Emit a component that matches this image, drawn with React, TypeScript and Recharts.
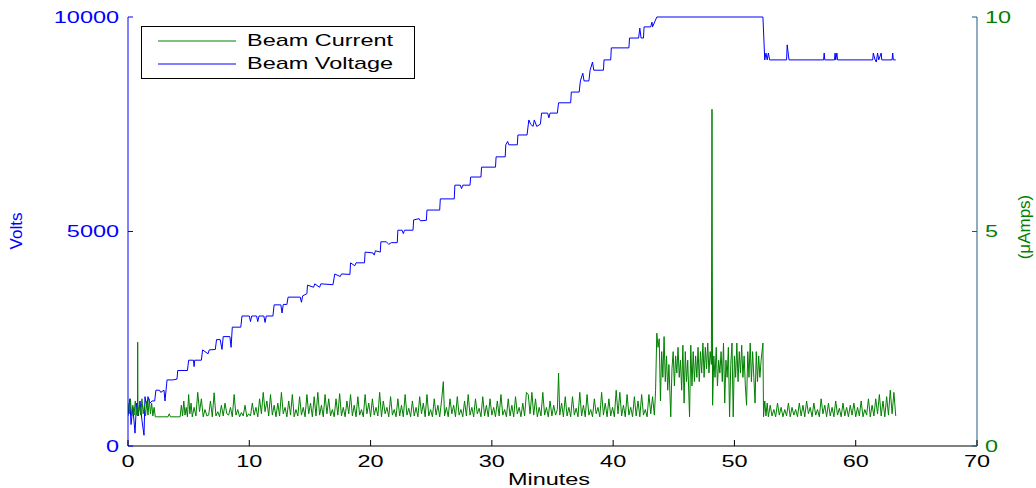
import { LineChart, Line, XAxis, YAxis, Legend } from 'recharts';

// minutes, volts
const voltagePoints: [number, number][] = [
  [0, 700], [0.15, 1100], [0.25, 500], [0.4, 900], [0.58, 300], [0.7, 1000], [0.85, 700],
  [0.99, 1050], [1.15, 600], [1.32, 250], [1.4, 1150], [1.55, 900], [1.65, 1150], [1.8, 1000],
  [1.98, 1050], [2.2, 1050], [2.3, 1300], [2.6, 1300], [2.7, 1250], [2.97, 1300], [3.05, 1050],
  [3.22, 1540], [3.7, 1540], [4.04, 1560], [4.1, 1760], [4.9, 1760], [5.0, 2000], [5.4, 2000],
  [5.45, 1850], [5.5, 2000], [6.05, 2000], [6.15, 2240], [6.6, 2150], [6.7, 2240], [7.2, 2250],
  [7.3, 2480], [7.6, 2480], [7.75, 2250], [7.85, 2550], [8.4, 2550], [8.5, 2300], [8.6, 2770],
  [9.3, 2770], [9.4, 3030], [10.0, 3030], [10.1, 2900], [10.2, 3030], [10.6, 3030], [10.7, 2900],
  [10.8, 3030], [11.2, 3030], [11.3, 2880], [11.4, 3030], [11.95, 3030], [12.05, 3290], [12.6, 3290],
  [12.7, 3100], [12.8, 3300], [13.1, 3300], [13.2, 3470], [14.2, 3470], [14.3, 3350], [14.4, 3500],
  [14.75, 3550], [14.8, 3750], [15.3, 3700], [15.4, 3780], [15.8, 3700], [15.9, 3780], [16.9, 3760],
  [17.05, 4010], [17.5, 3950], [17.6, 4010], [18.3, 4000], [18.35, 4270], [18.7, 4200], [18.8, 4270],
  [19.5, 4270], [19.55, 4520], [20.2, 4500], [20.3, 4450], [20.4, 4550], [20.8, 4520], [20.85, 4760],
  [21.3, 4760], [21.5, 4700], [21.7, 4740], [22.2, 4740], [22.25, 5030], [22.6, 5030], [22.7, 4950],
  [22.8, 5030], [23.5, 5030], [23.55, 5270], [24.0, 5300], [24.1, 5250], [24.6, 5260], [24.65, 5500],
  [25.7, 5500], [25.75, 5760], [26.9, 5760], [26.95, 6080], [27.4, 6080], [27.5, 6000], [27.6, 6080],
  [28.2, 6080], [28.25, 6270], [29.1, 6270], [29.15, 6500], [30.3, 6500], [30.35, 6740], [31.1, 6740],
  [31.15, 7020], [31.3, 7100], [31.4, 7020], [32.1, 7020], [32.15, 7250], [32.9, 7250], [33.05, 7600],
  [33.2, 7500], [33.4, 7450], [33.5, 7600], [33.7, 7450], [34.0, 7500], [34.1, 7760], [34.6, 7760],
  [34.7, 7650], [34.8, 7760], [35.4, 7760], [35.5, 8000], [36.5, 8000], [36.55, 8250], [37.2, 8250],
  [37.3, 8510], [37.5, 8690], [37.6, 8510], [38.0, 8510], [38.1, 8760], [38.3, 8950], [38.4, 8760],
  [39.2, 8760], [39.25, 9000], [39.8, 9000], [39.85, 9280], [41.3, 9280], [41.35, 9510], [42.1, 9510],
  [42.2, 9740], [42.3, 9510], [42.5, 9510], [42.55, 9770], [43.1, 9770], [43.2, 9880], [43.25, 9770],
  [43.6, 10000], [52.35, 10000], [52.5, 9000], [52.6, 9160], [52.7, 9000], [52.8, 9160], [52.9, 9000],
  [54.3, 9000], [54.35, 9350], [54.5, 9000], [57.35, 9000], [57.4, 9160], [57.45, 9000], [58.25, 9000],
  [58.3, 9160], [58.35, 9000], [58.45, 9160], [58.5, 9000], [61.4, 9000], [61.45, 9160], [61.6, 9000],
  [61.7, 8950], [61.8, 9160], [61.9, 9000], [62.1, 9160], [62.15, 9000], [63.0, 9000], [63.05, 9160],
  [63.1, 9000], [63.3, 9000],
];

// minutes, microamps
const currentPoints: [number, number][] = [
  [0, 1.0], [0.1, 0.75], [0.2, 1.1], [0.3, 0.7], [0.4, 0.95], [0.5, 0.72], [0.6, 1.05], [0.7, 0.75],
  [0.78, 0.7], [0.8, 2.42], [0.82, 0.7], [0.95, 1.0], [1.05, 0.72], [1.15, 1.1], [1.25, 0.75],
  [1.35, 0.95], [1.45, 0.7], [1.55, 1.05], [1.65, 0.72], [1.75, 1.1], [1.85, 0.75], [1.95, 1.0],
  [2.05, 0.7], [2.15, 0.9], [2.25, 0.68], [2.4, 0.68], [3.3, 0.68], [3.4, 0.75], [3.5, 0.68], [4.2, 0.68],
  [4.3, 0.68], [4.4, 0.95], [4.5, 0.7], [4.6, 1.05], [4.7, 0.72], [4.8, 0.9], [4.9, 0.68], [5.0, 1.2],
  [5.1, 0.75], [5.2, 1.0], [5.3, 0.68], [5.45, 0.9], [5.6, 0.7], [5.75, 1.25], [5.9, 0.8], [6.05, 1.1],
  [6.2, 0.68], [6.35, 0.85], [6.5, 0.7], [6.65, 0.72], [6.8, 1.05], [6.95, 0.68], [7.1, 1.24], [7.25, 0.7],
  [7.4, 0.8], [7.55, 0.68], [7.7, 0.95], [7.85, 0.7], [8.0, 1.0], [8.15, 0.75], [8.3, 0.72], [8.45, 0.9],
  [8.6, 0.68], [8.75, 1.2], [8.9, 0.72], [9.05, 0.85], [9.2, 0.68], [9.35, 0.78], [9.5, 0.7], [9.65, 0.95],
  [9.8, 0.68], [9.95, 0.75], [10.1, 0.7], [10.25, 1.0], [10.4, 0.72], [10.55, 0.9], [10.7, 0.68],
  [10.85, 1.1], [11.0, 0.75], [11.15, 1.25], [11.3, 0.8], [11.45, 1.05], [11.6, 0.7], [11.75, 1.2],
  [11.9, 0.72], [12.05, 0.95], [12.2, 0.68], [12.35, 1.0], [12.5, 0.7], [12.65, 1.25], [12.8, 0.75],
  [12.95, 0.9], [13.1, 0.68], [13.25, 1.05], [13.4, 0.72], [13.55, 1.2], [13.7, 0.68], [13.85, 0.85],
  [14.0, 0.7], [14.15, 1.15], [14.3, 0.72], [14.45, 0.9], [14.6, 0.68], [14.75, 1.2], [14.9, 0.75],
  [15.05, 1.0], [15.2, 0.68], [15.35, 1.15], [15.5, 0.7], [15.65, 1.25], [15.8, 0.72], [15.95, 0.95],
  [16.1, 0.68], [16.25, 1.2], [16.4, 0.75], [16.55, 1.1], [16.7, 0.7], [16.85, 0.85], [17.0, 0.68],
  [17.15, 1.1], [17.3, 0.72], [17.45, 1.22], [17.6, 0.7], [17.75, 0.9], [17.9, 0.68], [18.05, 1.05],
  [18.2, 0.75], [18.35, 1.2], [18.5, 0.7], [18.65, 0.95], [18.8, 0.68], [18.95, 1.15], [19.1, 0.72],
  [19.25, 0.85], [19.4, 0.68], [19.55, 1.2], [19.7, 0.75], [19.85, 1.0], [20.0, 0.68], [20.15, 1.1],
  [20.3, 0.72], [20.45, 0.9], [20.6, 0.7], [20.75, 1.25], [20.9, 0.68], [21.05, 1.05], [21.2, 0.75],
  [21.35, 0.9], [21.5, 0.68], [21.65, 1.15], [21.8, 0.72], [21.95, 0.85], [22.1, 0.68], [22.25, 1.1],
  [22.4, 0.7], [22.55, 0.95], [22.7, 0.68], [22.85, 1.2], [23.0, 0.72], [23.15, 0.88], [23.3, 0.68],
  [23.45, 1.05], [23.6, 0.7], [23.75, 0.9], [23.9, 0.68], [24.05, 1.15], [24.2, 0.75], [24.35, 1.0],
  [24.5, 0.68], [24.65, 1.2], [24.8, 0.7], [24.95, 0.85], [25.1, 0.68], [25.25, 1.1], [25.4, 0.72],
  [25.55, 0.95], [25.7, 0.68], [25.85, 1.05], [26.0, 1.5], [26.1, 0.7], [26.25, 0.9], [26.4, 0.68],
  [26.55, 1.1], [26.7, 0.75], [26.85, 0.95], [27.0, 0.68], [27.15, 1.15], [27.3, 0.72], [27.45, 0.85],
  [27.6, 0.68], [27.75, 1.05], [27.9, 0.7], [28.05, 1.2], [28.2, 0.72], [28.35, 0.9], [28.5, 0.68],
  [28.65, 1.1], [28.8, 0.75], [28.95, 0.88], [29.1, 0.68], [29.25, 1.15], [29.4, 0.7], [29.55, 0.95],
  [29.7, 0.68], [29.85, 1.1], [30.0, 0.72], [30.15, 0.9], [30.3, 0.68], [30.45, 1.05], [30.6, 0.7],
  [30.75, 1.2], [30.9, 0.72], [31.05, 0.85], [31.2, 0.68], [31.35, 1.1], [31.5, 0.7], [31.65, 0.95],
  [31.8, 0.68], [31.95, 1.15], [32.1, 0.75], [32.25, 0.9], [32.4, 0.68], [32.55, 1.0], [32.7, 0.7],
  [32.85, 1.25], [33.0, 1.2], [33.15, 0.75], [33.3, 1.25], [33.45, 0.72], [33.6, 1.1], [33.75, 0.68],
  [33.9, 0.9], [34.05, 0.7], [34.2, 1.25], [34.35, 0.72], [34.5, 0.9], [34.65, 0.68], [34.8, 1.05],
  [34.95, 0.7], [35.1, 0.95], [35.25, 0.72], [35.4, 0.85], [35.5, 1.7], [35.6, 0.72], [35.75, 1.0],
  [35.9, 0.68], [36.05, 1.15], [36.2, 0.7], [36.35, 0.9], [36.5, 0.68], [36.65, 1.15], [36.8, 0.72],
  [36.95, 0.88], [37.1, 0.68], [37.25, 1.25], [37.4, 0.7], [37.55, 0.95], [37.7, 0.68], [37.85, 1.2],
  [38.0, 0.72], [38.15, 0.85], [38.3, 0.68], [38.45, 1.1], [38.6, 0.75], [38.75, 0.9], [38.9, 0.68],
  [39.05, 1.25], [39.2, 0.72], [39.35, 1.0], [39.5, 0.68], [39.65, 1.1], [39.8, 0.7], [39.95, 0.9],
  [40.1, 0.68], [40.25, 1.3], [40.4, 0.75], [40.55, 1.25], [40.7, 0.7], [40.85, 0.95], [41.0, 0.68],
  [41.15, 1.2], [41.3, 0.72], [41.45, 0.9], [41.6, 0.68], [41.75, 1.15], [41.9, 0.7], [42.05, 1.05],
  [42.2, 0.68], [42.35, 1.2], [42.5, 0.72], [42.65, 0.85], [42.8, 0.68], [42.95, 1.2], [43.1, 0.75],
  [43.25, 1.15], [43.4, 0.72], [43.5, 1.3],
  [43.6, 2.63], [43.7, 2.3], [43.8, 2.5], [43.9, 1.05], [44.0, 2.2], [44.1, 1.6], [44.2, 2.55], [44.3, 1.5],
  [44.4, 2.1], [44.5, 1.3], [44.6, 1.9], [44.75, 0.68], [44.85, 1.8], [44.95, 2.2], [45.05, 1.4],
  [45.15, 2.1], [45.25, 1.7], [45.35, 2.3], [45.45, 1.6], [45.55, 2.0], [45.65, 1.3], [45.75, 2.35],
  [45.85, 1.0], [45.95, 2.2], [46.05, 1.5], [46.15, 2.0], [46.3, 0.68], [46.4, 2.35], [46.5, 1.4],
  [46.6, 2.2], [46.7, 1.5], [46.8, 2.1], [46.9, 1.6], [47.0, 2.3], [47.1, 1.5], [47.2, 2.2], [47.3, 1.7],
  [47.4, 2.4], [47.5, 1.6], [47.6, 2.3], [47.7, 1.8], [47.8, 2.4], [47.9, 1.7], [48.0, 2.2], [48.1, 1.9],
  [48.15, 7.85], [48.2, 0.95], [48.3, 2.1], [48.4, 1.6], [48.5, 2.3], [48.6, 1.4], [48.7, 2.0], [48.8, 1.7],
  [48.9, 2.2], [49.0, 1.5], [49.1, 2.4], [49.2, 1.0], [49.3, 2.0], [49.4, 1.6], [49.5, 2.3], [49.6, 0.68],
  [49.7, 1.9], [49.8, 2.4], [49.9, 0.68], [50.0, 2.1], [50.1, 1.6], [50.2, 2.4], [50.3, 1.5], [50.4, 2.2],
  [50.5, 1.7], [50.6, 2.35], [50.7, 1.6], [50.8, 2.1], [50.9, 1.4], [51.0, 0.95], [51.1, 2.2], [51.2, 1.6],
  [51.3, 2.4], [51.4, 1.5], [51.5, 2.2], [51.6, 1.6], [51.7, 1.0], [51.8, 2.2], [51.9, 1.5], [52.0, 2.1],
  [52.1, 1.6], [52.2, 2.0], [52.35, 2.4], [52.4, 0.68],
  [52.5, 1.05], [52.6, 0.7], [52.7, 1.0], [52.8, 0.68], [52.95, 0.95], [53.1, 0.7], [53.25, 0.85],
  [53.4, 0.68], [53.55, 1.0], [53.7, 0.72], [53.85, 0.9], [54.0, 0.68], [54.15, 0.85], [54.3, 0.7],
  [54.45, 1.0], [54.6, 0.68], [54.75, 0.9], [54.9, 0.72], [55.05, 0.85], [55.2, 0.68], [55.35, 1.0],
  [55.5, 0.7], [55.65, 0.95], [55.8, 0.68], [55.95, 1.05], [56.1, 0.75], [56.25, 0.9], [56.4, 0.68],
  [56.55, 1.0], [56.7, 0.72], [56.85, 0.85], [57.0, 0.68], [57.15, 1.1], [57.3, 0.75], [57.45, 0.95],
  [57.6, 0.68], [57.75, 1.0], [57.9, 0.7], [58.05, 0.9], [58.2, 0.68], [58.35, 1.05], [58.5, 0.72],
  [58.65, 0.88], [58.8, 0.68], [58.95, 1.0], [59.1, 0.7], [59.25, 0.9], [59.4, 0.68], [59.55, 0.95],
  [59.7, 0.72], [59.85, 1.0], [60.0, 0.68], [60.15, 0.9], [60.3, 0.7], [60.45, 1.05], [60.6, 0.68],
  [60.75, 0.85], [60.9, 0.72], [61.05, 1.1], [61.2, 0.68], [61.35, 0.95], [61.5, 0.7], [61.65, 1.1],
  [61.8, 0.75], [61.95, 1.2], [62.1, 0.7], [62.25, 1.05], [62.4, 0.68], [62.55, 1.15], [62.7, 0.72],
  [62.85, 1.3], [63.0, 0.75], [63.15, 1.25], [63.3, 0.7],
];

const minuteTicks = [0, 10, 20, 30, 40, 50, 60, 70];
const voltTicks = [0, 5000, 10000];
const ampTicks = [0, 5, 10];

const BLUE = '#0000ff';
const GREEN = '#008000';
const RIGHT_AXIS = '#1d5a7a';
const FONT = "'Liberation Sans', Arial, sans-serif";
const STRETCH = 1.38; // original figure text is stretched horizontally

const voltageData = voltagePoints.map(([t, v]) => ({ t, v }));
const currentData = currentPoints.map(([t, a]) => ({ t, a }));

const legendItems = [
  { name: 'Beam Current', color: GREEN },
  { name: 'Beam Voltage', color: BLUE },
];

// MATLAB style: tick marks point into the plot area
const BottomTick = ({ x, y, payload }: any) => (
  <g>
    <line x1={x} x2={x} y1={y - 8} y2={y - 14} stroke="#000" />
    <g transform={`translate(${x},${y})`}>
      <text transform={`scale(${STRETCH},1)`} textAnchor="middle" dy="0.75em" fill="#000" fontSize={17} fontFamily={FONT}>
        {payload.value}
      </text>
    </g>
  </g>
);

const TopTick = ({ x, y }: any) => <line x1={x} x2={x} y1={y + 8} y2={y + 12} stroke="#000" />;

const LeftTick = ({ x, y, payload }: any) => (
  <g>
    <line x1={x + 8} x2={x + 13} y1={y} y2={y} stroke={BLUE} />
    <g transform={`translate(${x - 1},${y})`}>
      <text transform={`scale(${STRETCH},1)`} textAnchor="end" dy="0.35em" fill={BLUE} fontSize={17} fontFamily={FONT}>
        {payload.value}
      </text>
    </g>
  </g>
);

const RightTick = ({ x, y, payload }: any) => (
  <g>
    <line x1={x - 8} x2={x - 13} y1={y} y2={y} stroke={RIGHT_AXIS} />
    <g transform={`translate(${x},${y})`}>
      <text transform={`scale(${STRETCH},1)`} textAnchor="start" dy="0.35em" fill={GREEN} fontSize={17} fontFamily={FONT}>
        {payload.value}
      </text>
    </g>
  </g>
);

const BoxLegend = () => (
  <div
    style={{
      width: 272, height: 51, border: '1px solid #000', background: '#fff',
      fontFamily: FONT, fontSize: 17, position: 'relative',
    }}
  >
    {legendItems.map((item, i) => (
      <div key={item.name} style={{ position: 'absolute', left: 0, top: 3 + i * 23, height: 22, width: 272 }}>
        <svg width={100} height={22} style={{ position: 'absolute', left: 0, top: 0 }}>
          <line x1={16} x2={94} y1={11} y2={11} stroke={item.color} strokeWidth={1} />
        </svg>
        <span
          style={{
            position: 'absolute', left: 105, top: 1, whiteSpace: 'nowrap', color: '#000',
            transform: `scaleX(${STRETCH})`, transformOrigin: 'left center',
          }}
        >
          {item.name}
        </span>
      </div>
    ))}
  </div>
);

export default function App() {
  return (
    <div style={{ position: 'absolute', left: 0, top: 0, width: 1036, height: 488, background: '#fff' }}>
      <LineChart width={1036} height={488} data={voltageData} margin={{ top: 17, right: 0, bottom: 0, left: 0 }}>
        <XAxis
          xAxisId="bottom" dataKey="t" type="number" domain={[0, 70]} ticks={minuteTicks}
          allowDataOverflow height={42} stroke="#000" tickLine={false} tickSize={6} tickMargin={2}
          tick={<BottomTick />}
        />
        <XAxis
          xAxisId="top" orientation="top" dataKey="t" type="number" domain={[0, 70]} ticks={minuteTicks}
          allowDataOverflow height={0} stroke="#000" tickLine={false} tickSize={6} tickMargin={2}
          tick={<TopTick />}
        />
        <YAxis
          yAxisId="volts" orientation="left" domain={[0, 10000]} ticks={voltTicks} width={128}
          stroke={BLUE} tickLine={false} tickSize={6} tickMargin={2} tick={<LeftTick />}
        />
        <YAxis
          yAxisId="amps" orientation="right" domain={[0, 10]} ticks={ampTicks} width={59}
          stroke={RIGHT_AXIS} tickLine={false} tickSize={6} tickMargin={2} tick={<RightTick />}
        />
        <Line
          data={voltageData} dataKey="v" name="Beam Voltage" xAxisId="bottom" yAxisId="volts"
          stroke={BLUE} strokeWidth={1} dot={false} isAnimationActive={false}
        />
        <Line
          data={currentData} dataKey="a" name="Beam Current" xAxisId="bottom" yAxisId="amps"
          stroke={GREEN} strokeWidth={1} dot={false} isAnimationActive={false}
        />
        <Legend
          layout="horizontal" align="center" verticalAlign="middle"
          content={<BoxLegend />}
          wrapperStyle={{ position: 'absolute', left: 141, top: 26, width: 274, height: 53 }}
        />
      </LineChart>
      <div
        style={{
          position: 'absolute', left: 17, top: 231, transform: 'translate(-50%,-50%) rotate(-90deg)',
          color: BLUE, fontFamily: FONT, fontSize: 17, whiteSpace: 'nowrap',
        }}
      >
        Volts
      </div>
      <div
        style={{
          position: 'absolute', left: 1025, top: 227, transform: 'translate(-50%,-50%) rotate(-90deg)',
          color: GREEN, fontFamily: FONT, fontSize: 17, whiteSpace: 'nowrap',
        }}
      >
        (μAmps)
      </div>
      <div
        style={{
          position: 'absolute', left: 549, top: 480, transform: `translate(-50%,-50%) scaleX(${STRETCH})`,
          color: '#000', fontFamily: FONT, fontSize: 17, whiteSpace: 'nowrap',
        }}
      >
        Minutes
      </div>
    </div>
  );
}
